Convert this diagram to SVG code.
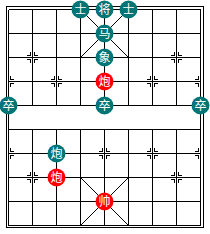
<svg xmlns="http://www.w3.org/2000/svg" xmlns:xlink="http://www.w3.org/1999/xlink" width="210" height="234" viewBox="0 0 210 234">
<style>
.ln{stroke:#000;stroke-width:1;fill:none;shape-rendering:crispEdges}
.dg{stroke:#000;stroke-width:1;fill:none}
.blk{fill:url(#tealDots)}
.red{fill:#ff0000}
.pc text{fill:#fff;font-family:"Noto Sans CJK SC","Noto Sans",sans-serif;font-size:12px;text-anchor:middle}
</style>
<defs>
<pattern id="tealDots" width="2" height="2" patternUnits="userSpaceOnUse">
<rect width="2" height="2" fill="#008080"/>
<rect width="1" height="1" fill="#006a6a"/>
<rect x="1" y="1" width="1" height="1" fill="#006a6a"/>
</pattern>
<g id="mkL" class="ln"><path d="M-5.5 -2H-2V-5.5M-5.5 2H-2V5.5"/></g>
<g id="mkR" class="ln"><path d="M5.5 -2H2V-5.5M5.5 2H2V5.5"/></g>
<g id="mk"><use xlink:href="#mkL"/><use xlink:href="#mkR"/></g>
</defs>
<rect width="210" height="234" fill="#fff"/>
<g id="board">
<rect class="ln" x="6.5" y="6.5" width="197" height="221"/>
<path class="ln" d="M8.5 9.5H200.5M8.5 33.5H200.5M8.5 57.5H200.5M8.5 81.5H200.5M8.5 105.5H200.5M8.5 129.5H200.5M8.5 153.5H200.5M8.5 177.5H200.5M8.5 201.5H200.5M8.5 225.5H200.5M8.5 9.5V225.5M200.5 9.5V225.5M32.5 9.5V105.5M56.5 9.5V105.5M80.5 9.5V105.5M104.5 9.5V105.5M128.5 9.5V105.5M152.5 9.5V105.5M176.5 9.5V105.5M32.5 129.5V225.5M56.5 129.5V225.5M80.5 129.5V225.5M104.5 129.5V225.5M128.5 129.5V225.5M152.5 129.5V225.5M176.5 129.5V225.5"/>
</g>
<g id="connectors">
<path class="dg" d="M80.5 9.5L128.5 57.5M128.5 9.5L80.5 57.5M80.5 177.5L128.5 225.5M128.5 177.5L80.5 225.5"/>
</g>
<g id="markers">
<use xlink:href="#mk" x="32.5" y="57.5"/>
<use xlink:href="#mk" x="176.5" y="57.5"/>
<use xlink:href="#mkR" x="8.5" y="81.5"/>
<use xlink:href="#mk" x="56.5" y="81.5"/>
<use xlink:href="#mk" x="104.5" y="81.5"/>
<use xlink:href="#mk" x="152.5" y="81.5"/>
<use xlink:href="#mkL" x="200.5" y="81.5"/>
<use xlink:href="#mkR" x="8.5" y="153.5"/>
<use xlink:href="#mk" x="56.5" y="153.5"/>
<use xlink:href="#mk" x="104.5" y="153.5"/>
<use xlink:href="#mk" x="152.5" y="153.5"/>
<use xlink:href="#mkL" x="200.5" y="153.5"/>
<use xlink:href="#mk" x="32.5" y="177.5"/>
<use xlink:href="#mk" x="176.5" y="177.5"/>
</g>
<g id="b-advisor-1" class="pc"><circle class="blk" cx="80.5" cy="9.5" r="9"/><text x="80.5" y="13.8">士</text></g>
<g id="b-general" class="pc"><circle class="blk" cx="104.5" cy="9.5" r="9"/><text x="104.5" y="13.8">将</text></g>
<g id="b-advisor-2" class="pc"><circle class="blk" cx="128.5" cy="9.5" r="9"/><text x="128.5" y="13.8">士</text></g>
<g id="b-horse" class="pc"><circle class="blk" cx="104.5" cy="33.5" r="9"/><text x="104.5" y="37.8">马</text></g>
<g id="b-elephant" class="pc"><circle class="blk" cx="104.5" cy="57.5" r="9"/><text x="104.5" y="61.8">象</text></g>
<g id="r-cannon-1" class="pc"><circle class="red" cx="104.5" cy="81.5" r="9"/><text x="104.5" y="85.8">炮</text></g>
<g id="b-soldier-1" class="pc"><circle class="blk" cx="8.5" cy="105.5" r="9"/><text x="8.5" y="109.8">卒</text></g>
<g id="b-soldier-2" class="pc"><circle class="blk" cx="104.5" cy="105.5" r="9"/><text x="104.5" y="109.8">卒</text></g>
<g id="b-soldier-3" class="pc"><circle class="blk" cx="200.5" cy="105.5" r="9"/><text x="200.5" y="109.8">卒</text></g>
<g id="b-cannon" class="pc"><circle class="blk" cx="56.5" cy="153.5" r="9"/><text x="56.5" y="157.8">炮</text></g>
<g id="r-cannon-2" class="pc"><circle class="red" cx="56.5" cy="177.5" r="9"/><text x="56.5" y="181.8">炮</text></g>
<g id="r-king" class="pc"><circle class="red" cx="104.5" cy="201.5" r="9"/><text x="104.5" y="205.8">帅</text></g>
</svg>
